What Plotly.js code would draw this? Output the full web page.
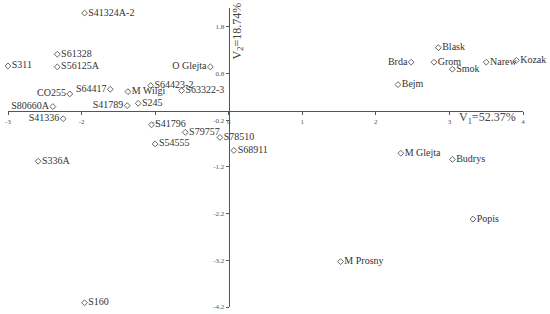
<!DOCTYPE html>
<html>
<head>
<meta charset="utf-8">
<script src="https://cdn.plot.ly/plotly-3.0.1.min.js"></script>
<style>
  html, body { margin: 0; padding: 0; background: #fff; }
  #pca { width: 550px; height: 314px; }
</style>
</head>
<body>
<div id="pca"></div>
<script>
// cultivar scores on the first two principal components
var names = [
    "S41324A-2", "S61328", "S311", "S56125A", "O Glejta", "S64423-2",
    "S63322-3", "S64417", "M Wilgi", "CO255", "S245", "S41789",
    "S80660A", "S41336", "S41796", "S79757", "S78510", "S54555",
    "S68911", "S336A", "S160", "Blask", "Brda", "Grom", "Smok",
    "Narew", "Kozak", "Bejm", "M Glejta", "Budrys", "Popis", "M Prosny"
];
var pc1 = [
    -1.96, -2.33, -3.0, -2.33, -0.25, -1.06,
    -0.64, -1.61, -1.37, -2.16, -1.23, -1.38,
    -2.39, -2.25, -1.05, -0.59, -0.12, -1.0,
    0.07, -2.59, -1.96, 2.85, 2.48, 2.79, 3.04,
    3.50, 3.91, 2.30, 2.34, 3.04, 3.32, 1.52
];
var pc2 = [
    2.09, 1.21, 0.96, 0.94, 0.94, 0.54,
    0.43, 0.46, 0.41, 0.36, 0.16, 0.11,
    0.09, -0.17, -0.30, -0.46, -0.57, -0.71,
    -0.85, -1.08, -4.11, 1.35, 1.04, 1.04, 0.89,
    1.04, 1.08, 0.56, -0.91, -1.04, -2.32, -3.23
];
// these labels sit to the left of their marker
var leftLabels = ["O Glejta", "S64417", "CO255", "S41789", "S80660A", "S41336", "Brda"];

// axis ticks, written with a plain hyphen like the original
var xTicks = [-3, -2, -1, 0, 1, 2, 3, 4];
var xTickText = ["-3", "-2", "-1", "0", "1", "2", "3", "4"];
var yTicks = [-4.2, -3.2, -2.2, -1.2, -0.2, 0.8, 1.8];
var yTickText = ["-4.2", "-3.2", "-2.2", "-1.2", "-0.2", "0.8", "1.8"];

var serif = "Liberation Serif, Times New Roman, serif";

var trace = {
    type: "scatter",
    mode: "markers+text",
    x: pc1,
    y: pc2,
    text: names,
    textposition: names.map(n => leftLabels.indexOf(n) >= 0 ? "middle left" : "middle right"),
    textfont: { family: serif, size: 10, color: "#333" },
    marker: {
        symbol: "diamond-open",
        size: 4.5,
        color: "#666",
        line: { width: 1, color: "#666" },
    },
    cliponaxis: false,
    hoverinfo: "text",
};

var xRange = [-3, 4];
var yRange = [-4.2, 2.2];

var layout = {
    width: 550,
    height: 314,
    margin: { l: 8, r: 27, t: 8, b: 7 },
    paper_bgcolor: "#fff",
    plot_bgcolor: "#fff",
    showlegend: false,
    font: { family: serif, color: "#555" },
    xaxis: {
        range: xRange,
        anchor: "free",
        position: (0 - yRange[0]) / (yRange[1] - yRange[0]),
        showgrid: false,
        zeroline: false,
        showline: true,
        linecolor: "#555",
        linewidth: 1.5,
        ticks: "outside",
        ticklen: 3,
        tickcolor: "#555",
        tickmode: "array",
        tickvals: xTicks,
        ticktext: xTickText,
        tickfont: { family: serif, size: 7, color: "#555" },
    },
    yaxis: {
        range: yRange,
        anchor: "free",
        position: (0 - xRange[0]) / (xRange[1] - xRange[0]),
        showgrid: false,
        zeroline: false,
        showline: true,
        linecolor: "#555",
        linewidth: 1.5,
        ticks: "outside",
        ticklen: 3,
        tickcolor: "#555",
        tickmode: "array",
        tickvals: yTicks,
        ticktext: yTickText,
        tickfont: { family: serif, size: 7, color: "#555" },
    },
    annotations: [
        {
            text: "V<sub>1</sub>=52.37%",
            x: 3.52, y: -0.16, xref: "x", yref: "y",
            showarrow: false,
            font: { family: serif, size: 12, color: "#444" },
        },
        {
            text: "V<sub>2</sub>=18.74%",
            x: 0.12, y: 1.71, xref: "x", yref: "y",
            textangle: -90,
            showarrow: false,
            font: { family: serif, size: 12, color: "#444" },
        },
    ],
};

Plotly.newPlot("pca", [trace], layout, { displayModeBar: false, staticPlot: true });
</script>
</body>
</html>
